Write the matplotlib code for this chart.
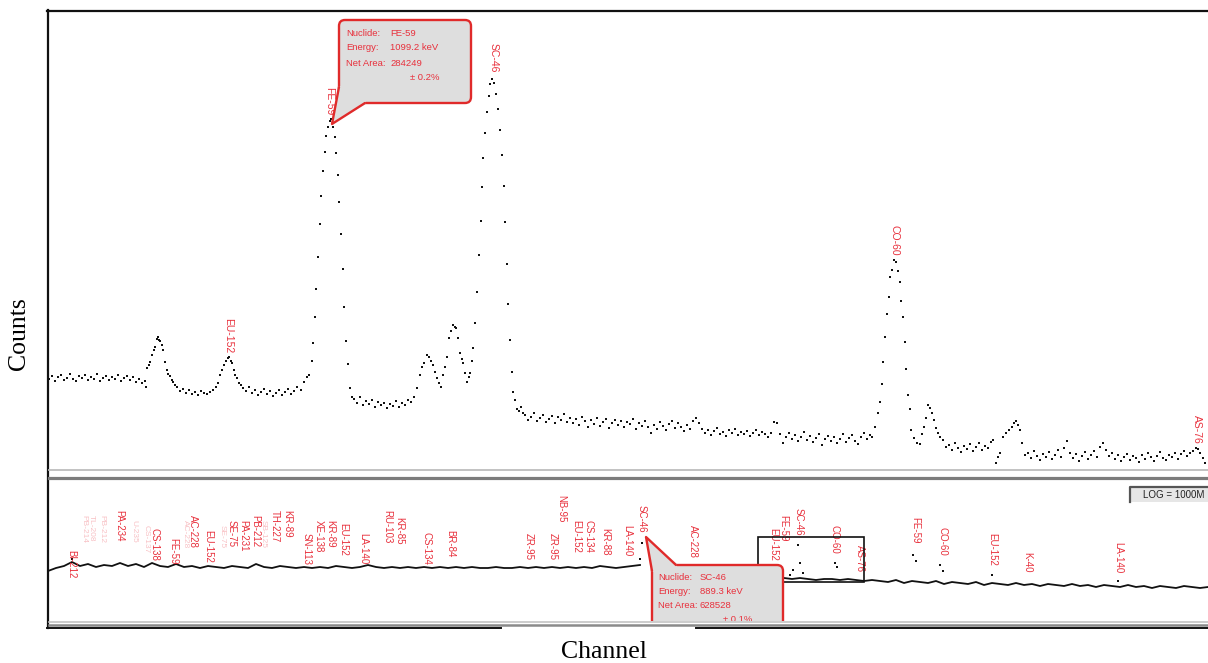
import numpy as np
import matplotlib
matplotlib.use("Agg")
import matplotlib.pyplot as plt
from matplotlib.patches import FancyBboxPatch, Polygon, Rectangle

plt.rcParams['font.family'] = ['Liberation Sans', 'DejaVu Sans']

W, H = 1208, 663

# ---------------- upper panel: expanded spectrum (counts per channel) ----------------
base_a_ch = np.arange(49, 146, 3)
base_a_ct = [88, 91, 86, 90, 92, 87, 89, 93, 88, 86, 91, 89, 92, 87, 90, 88, 93,
             86, 89, 91, 87, 90, 88, 92, 86, 89, 91, 87, 90, 85, 88, 84, 86]
peak1_ch = [146, 147, 149, 150, 152, 154, 155, 157, 158, 159, 160, 162, 163, 165,
            167, 168, 170, 172, 173, 175]
peak1_ct = [80, 99, 102, 105, 112, 117, 120, 128, 130, 127, 126, 122, 117, 105,
            97, 93, 91, 87, 85, 82]
base_b_ch = np.arange(177, 214, 3)
base_b_ct = [80, 76, 78, 74, 77, 73, 75, 72, 76, 74, 73, 75, 77]
eu_ch = [216, 218, 220, 222, 224, 226, 228, 229, 231, 232, 234, 235, 237, 239, 241]
eu_ct = [80, 84, 92, 97, 102, 106, 109, 110, 106, 104, 97, 92, 89, 84, 82]
base_c_ch = np.arange(243, 300, 3)
base_c_ct = [79, 76, 80, 74, 77, 72, 75, 78, 73, 76, 71, 74, 77, 72, 75, 78, 73, 76, 80]
fe_ch = [301, 304, 307, 309, 312, 313, 315, 316, 318, 320, 321, 323, 325, 326, 328,
         330, 331, 333, 335, 336, 338, 339, 341, 343, 344, 346, 348, 350, 352]
fe_ct = [77, 85, 90, 92, 106, 124, 150, 178, 210, 243, 271, 296, 315, 331, 340,
         346, 348, 340, 330, 314, 292, 265, 233, 198, 160, 126, 103, 79, 70]
base_d_ch = np.arange(354, 415, 3)
base_d_ct = [68, 64, 70, 62, 66, 63, 67, 60, 65, 62, 64, 59, 63, 61, 66, 60, 64,
             62, 67, 65, 70]
mid_ch = [417, 420, 422, 424, 427, 429, 431, 433, 435, 437, 439, 441, 443, 445, 447,
          449, 451, 453, 455, 456, 458, 460, 462, 463, 465, 467, 469, 470, 472, 473, 475]
mid_ct = [79, 92, 100, 104, 112, 110, 106, 102, 95, 89, 84, 80, 92, 100, 110,
          129, 136, 142, 140, 139, 129, 114, 108, 104, 94, 85, 90, 94, 106, 119, 144]
sc_ch = [477, 479, 481, 482, 483, 485, 487, 489, 490, 492, 494, 496, 498, 500, 502,
         504, 505, 507, 508, 510, 512, 513, 515, 517, 519, 521, 523]
sc_ct = [175, 212, 246, 280, 309, 334, 355, 371, 383, 388, 384, 373, 358, 337, 312,
         281, 245, 203, 163, 127, 95, 75, 67, 58, 56, 60, 54]
base_e_ch = np.arange(525, 871, 3)
base_e_ct = [52, 47, 50, 54, 46, 49, 52, 45, 48, 51, 44, 50, 47, 53, 45, 49,
             44, 48, 42, 50, 46, 40, 47, 43, 49, 41, 45, 48, 39, 44, 47, 42, 46, 40,
             45, 43, 48, 38, 44, 41, 46, 40,
             34, 42, 38, 45, 41, 37, 43, 46, 39, 44, 40, 36, 42, 38,
             46, 49, 44,
             38, 34, 37, 32, 36, 39, 33, 35, 31, 37, 34, 38, 32, 35, 33, 36, 31, 34,
             37, 32, 35, 33, 30, 34,
             45, 44, 33,
             24, 30, 34, 28, 32, 26, 30, 35, 27, 31, 25, 29, 33, 22, 28, 31, 26, 30,
             24, 28, 33, 25, 29, 32, 26, 23, 30, 34, 28, 32]
co_ch = [872, 875, 878, 880, 882, 883, 885, 887, 889, 890, 892, 894, 896, 898, 900,
         901, 903, 905, 906, 908, 910, 911, 914, 917, 920, 922, 924, 926, 928, 930,
         932, 934, 936, 938, 940, 943, 946]
co_ct = [30, 40, 54, 65, 83, 105, 130, 153, 170, 190, 197, 207, 205, 196, 185,
         166, 150, 125, 98, 72, 58, 37, 29, 24, 23, 33, 40, 49, 62, 59,
         54, 47, 39, 34, 30, 27, 20]
base_f_ch = np.arange(949, 992, 3)
base_f_ct = [22, 17, 24, 19, 15, 21, 18, 23, 16, 20, 24, 17, 21, 19, 25]
bump_ch = [993, 996, 998, 1000, 1003, 1006, 1009, 1012, 1014, 1016, 1018, 1020, 1022, 1025]
bump_ct = [27, 4, 10, 14, 30, 34, 37, 40, 44, 46, 42, 37, 24, 12]
base_g_ch = np.arange(1028, 1191, 3)
base_g_ct = [14, 9, 16, 11, 7, 13, 10, 15, 8, 12, 17, 10,
             19, 26, 14,
             9, 13, 6, 11, 15, 8, 12, 16, 10,
             20, 24, 17,
             11, 14, 8, 12, 6, 10, 13, 7, 11, 9, 5, 12, 8, 14, 10, 6, 11, 15, 9, 7,
             12, 10, 14, 8, 13, 16, 11, 14]
as_ch = [1193, 1196, 1198, 1200, 1203, 1205]
as_ct = [16, 19, 18, 14, 9, 4]

upper_labels = [("EU-152", 228, 149), ("FE-59", 329, 380), ("SC-46", 494, 424),
                ("CO-60", 895, 242), ("AS-76", 1197, 52)]

# ---------------- lower panel: full spectrum overview (log) ----------------
low_a_ch = np.arange(48, 641, 8)
low_a_ct = [50, 53, 55, 59, 55, 57, 54, 56, 55, 58, 55, 57, 54, 58, 55, 54, 57, 54,
            55, 53, 55, 54, 53, 55, 54, 53, 57, 54, 53, 55, 54, 53, 54, 53, 54, 53,
            55, 54, 53, 54, 56, 54, 53, 54, 53, 54, 53, 54, 53, 54, 53, 54, 53, 54,
            53, 53, 54, 53, 53, 54, 53, 54, 53, 54, 53, 54, 53, 54, 53, 55, 54, 53,
            54, 55, 56]
low_b_ch = np.arange(656, 777, 8)
low_b_ct = [53, 50, 48, 47, 46, 45, 45, 44, 44, 43, 43, 43, 42, 42, 42, 42]
low_c_ch = np.arange(784, 1209, 8)
low_c_ct = [43, 42, 43, 42, 41, 42, 42, 41, 42, 41, 40,
            41, 40, 39, 41, 38, 40, 39, 38, 40, 37, 39, 38, 37, 39, 36, 38, 37, 36,
            38, 36, 37, 35, 37, 36, 35, 37, 35, 36, 34, 36, 35, 34, 36, 34, 35, 33,
            35, 34, 33, 35, 34, 33, 34]
low_peak_ch = [72, 640, 642, 790, 793, 798, 800, 803, 835, 837, 913, 916, 940, 943, 992, 1118]
low_peak_ct = [62, 62, 78, 46, 51, 76, 58, 48, 58, 54, 66, 60, 56, 50, 46, 40]

lower_labels = [("BI-212", 71, 71), ("PA-234", 119, 111), ("CS-138", 155, 93),
                ("FE-59", 173, 83), ("AC-228", 193, 106), ("EU-152", 208, 91),
                ("SE-75", 232, 101), ("PA-231", 243, 101), ("PB-212", 255, 106),
                ("TH-227", 275, 111), ("KR-89", 287, 111), ("SN-113", 307, 88),
                ("XE-138", 319, 101), ("KR-89", 330, 101), ("EU-152", 343, 98),
                ("LA-140", 363, 88), ("RU-103", 387, 111), ("KR-85", 399, 104),
                ("CS-134", 427, 89), ("BR-84", 450, 91), ("ZR-95", 529, 88),
                ("ZR-95", 553, 88), ("NB-95", 561, 126), ("EU-152", 576, 101),
                ("CS-134", 589, 101), ("KR-88", 605, 93), ("LA-140", 627, 96),
                ("SC-46", 642, 116), ("AC-228", 693, 96), ("EU-152", 773, 93),
                ("FE-59", 783, 106), ("SC-46", 799, 113), ("CO-60", 835, 96),
                ("AS-76", 860, 76), ("FE-59", 915, 104), ("CO-60", 942, 94),
                ("EU-152", 992, 88), ("K-40", 1027, 69), ("LA-140", 1118, 79)]
faint_labels = [("PB-214", 84, 106), ("TL-208", 91, 106), ("PB-212", 102, 106),
                ("U-235", 134, 101), ("CS-137", 146, 96), ("AC-228", 185, 101),
                ("SE-75", 222, 96), ("SB-125", 263, 101)]

callout_fe = [("Nuclide:", "FE-59"), ("Energy:", "1099.2 keV"), ("Net Area:", "284249")]
callout_sc = [("Nuclide:", "SC-46"), ("Energy:", "889.3 keV"), ("Net Area:", "628528")]

RED = '#e8303c'
BOXRED = '#e02a2a'
BOXFILL = '#dedede'

fig = plt.figure(figsize=(W / 100, H / 100), dpi=100)
fig.patch.set_facecolor('white')

def fax(l, t, r, b):
    return [l / W, (H - b) / H, (r - l) / W, (b - t) / H]

# upper axes: x = channel, y = counts (1 unit = 1 px)
axu = fig.add_axes(fax(48, 12, 1208, 467))
axu.set_xlim(48, 1208)
axu.set_ylim(0, 455)
axu.set_axis_off()

up_ch = np.concatenate([base_a_ch, peak1_ch, base_b_ch, eu_ch, base_c_ch, fe_ch, base_d_ch,
                        mid_ch, sc_ch, base_e_ch, co_ch, base_f_ch, bump_ch, base_g_ch, as_ch])
up_ct = np.concatenate([base_a_ct, peak1_ct, base_b_ct, eu_ct, base_c_ct, fe_ct, base_d_ct,
                        mid_ct, sc_ct, base_e_ct, co_ct, base_f_ct, bump_ct, base_g_ct, as_ct])
axu.plot(up_ch, up_ct, ls='none', marker='s', ms=1.7, mew=0, color='#111111', zorder=3)

for name, x, ytop in upper_labels:
    axu.text(x, ytop, name, rotation=-90, ha='center', va='top', color=RED,
             fontsize=7.5, zorder=4, clip_on=True)

# callout for FE-59 (upper)
bx, by, bw, bh = 339, 364, 132, 83
axu.add_patch(FancyBboxPatch((bx, by), bw, bh, boxstyle='round,pad=0,rounding_size=6',
                             fc=BOXFILL, ec=BOXRED, lw=1.7, zorder=6))
tip = (332, 343)
axu.add_patch(Polygon([(343, 381), (338, 381), tip, (366, 363), (366, 367), (343, 367)],
                      closed=True, fc=BOXFILL, ec='none', zorder=7))
axu.plot([339, tip[0], 365], [380, tip[1], 364], color=BOXRED, lw=1.7, zorder=8,
         solid_capstyle='round')
for i, (k, v) in enumerate(callout_fe):
    yy = 434 - i * 15
    axu.text(346, yy, k, color=RED, fontsize=6.8, va='center', zorder=9)
    axu.text(390, yy, v, color=RED, fontsize=6.8, va='center', zorder=9)
axu.text(410, 389, "\u00b1 0.2%", color=RED, fontsize=6.8, va='center', zorder=9)

# lower axes
axl = fig.add_axes(fax(48, 480, 1208, 621))
axl.set_xlim(48, 1208)
axl.set_ylim(0, 141)
axl.set_axis_off()

axl.plot(low_a_ch, low_a_ct, color='#111111', lw=1.3, zorder=3)
axl.plot(low_b_ch, low_b_ct, color='#111111', lw=1.3, zorder=3)
axl.plot(low_c_ch, low_c_ct, color='#111111', lw=1.3, zorder=3)
axl.plot(low_peak_ch, low_peak_ct, ls='none', marker='s', ms=1.6, mew=0,
         color='#111111', zorder=3)

for name, x, ytop in lower_labels:
    axl.text(x, ytop, name, rotation=-90, ha='center', va='top', color=RED,
             fontsize=7, zorder=4, clip_on=True)
for name, x, ytop in faint_labels:
    axl.text(x, ytop, name, rotation=-90, ha='center', va='top', color=RED,
             alpha=0.3, fontsize=6, zorder=4, clip_on=True)

# zoom-region rectangle
axl.add_patch(Rectangle((758, 39), 106, 45, fill=False, ec='#111111', lw=1.2, zorder=5))

# LOG box
axl.add_patch(Rectangle((1130, 119), 100, 15, fc='#e6e6e6', ec='none', zorder=5,
                        clip_on=False))
axl.plot([1130, 1130, 1210], [119, 134, 134], color='#555555', lw=1.6, zorder=6)
axl.text(1143, 126.5, "LOG = 1000M", fontsize=7, color='#222222', va='center', zorder=7)

# callout for SC-46 (lower)
axl.add_patch(FancyBboxPatch((652, -30), 131, 86, boxstyle='round,pad=0,rounding_size=6',
                             fc=BOXFILL, ec=BOXRED, lw=1.7, zorder=6))
tip2 = (646, 84)
axl.add_patch(Polygon([(655, 49), (651, 49), tip2, (677, 57), (677, 53), (655, 53)],
                      closed=True, fc=BOXFILL, ec='none', zorder=7))
axl.plot([652, tip2[0], 676], [50, tip2[1], 56], color=BOXRED, lw=1.7, zorder=8,
         solid_capstyle='round')
for i, (k, v) in enumerate(callout_sc):
    yy = 44 - i * 14.5
    axl.text(658, yy, k, color=RED, fontsize=6.8, va='center', zorder=9, clip_on=True)
    axl.text(700, yy, v, color=RED, fontsize=6.8, va='center', zorder=9, clip_on=True)
axl.text(723, 1, "\u00b1 0.1%", color=RED, fontsize=6.8, va='center', zorder=9, clip_on=True)

# frame overlay in pixel coordinates
axf = fig.add_axes([0, 0, 1, 1], zorder=10)
axf.set_xlim(0, W)
axf.set_ylim(H, 0)
axf.set_axis_off()
axf.plot([47, 1208], [10.5, 10.5], color='#111111', lw=1.6)
axf.plot([47.5, 47.5], [10, 628], color='#111111', lw=1.6)
axf.plot([47, 501], [627.5, 627.5], color='#111111', lw=1.4)
axf.plot([696, 1208], [627.5, 627.5], color='#111111', lw=1.4)
axf.plot([49, 1208], [469.5, 469.5], color='#bdbdbd', lw=1.3)
axf.plot([49, 1208], [478, 478], color='#7c7c7c', lw=2.3)
axf.plot([49, 1208], [621.5, 621.5], color='#c4c4c4', lw=1.2)
axf.plot([49, 1208], [624.5, 624.5], color='#8a8a8a', lw=1.8)

axf.text(604, 652, "Channel", ha='center', va='center', fontsize=18.5,
         family=['Liberation Serif', 'DejaVu Serif'])
axf.text(19, 334, "Counts", ha='center', va='center', rotation=90, fontsize=18.5,
         family=['Liberation Serif', 'DejaVu Serif'])

fig.savefig("out.png", dpi=100, facecolor='white')
